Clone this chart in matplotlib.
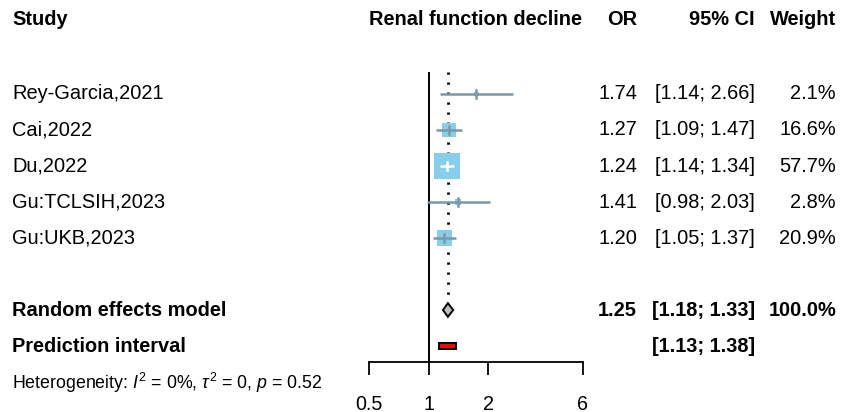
import matplotlib
matplotlib.use("Agg")
import matplotlib.pyplot as plt
import numpy as np
from matplotlib.transforms import blended_transform_factory
from matplotlib.patches import Polygon, Rectangle

plt.rcParams['font.family'] = ['Liberation Sans', 'DejaVu Sans']
plt.rcParams['mathtext.fontset'] = 'custom'
plt.rcParams['mathtext.rm'] = 'Liberation Sans'
plt.rcParams['mathtext.it'] = 'Liberation Sans:italic'

# ---- data ----
studies = ["Rey-Garcia,2021", "Cai,2022", "Du,2022", "Gu:TCLSIH,2023", "Gu:UKB,2023"]
or_vals = [1.74, 1.27, 1.24, 1.41, 1.20]
ci_lo = [1.14, 1.09, 1.14, 0.98, 1.05]
ci_hi = [2.66, 1.47, 1.34, 2.03, 1.37]
weights = [2.1, 16.6, 57.7, 2.8, 20.9]

re_or = 1.25
re_lo, re_hi = 1.18, 1.33
re_weight = 100.0
pi_lo, pi_hi = 1.13, 1.38

x_ticks = [0.5, 1, 2, 6]
x_tick_labels = ["0.5", "1", "2", "6"]

# ---- layout ----
W, H = 843, 412
fig = plt.figure(figsize=(W / 100, H / 100), dpi=100)
ax = fig.add_axes([369 / W, 50 / H, 214 / W, 290 / H])
ax.set_xscale("log")
ax.set_xlim(0.5, 6)
ax.set_ylim(8.444, 0.389)

for s in ["top", "right", "left"]:
    ax.spines[s].set_visible(False)
ax.spines["bottom"].set_linewidth(1.3)
ax.set_yticks([])
ax.set_xticks(x_ticks)
ax.set_xticklabels(x_tick_labels, fontsize=14.2)
ax.xaxis.set_minor_locator(matplotlib.ticker.NullLocator())
ax.tick_params(axis="x", direction="out", length=9.5, width=1.3, pad=14)

rows = np.arange(1, len(studies) + 1)
re_row, pi_row = 7, 8

# reference lines
ax.axvline(1, color="black", lw=1.4, zorder=1)
ax.plot([re_or, re_or], [0.389, re_row - 0.3], color="black", lw=2.0,
        linestyle=(0, (0.8, 2.8)), zorder=1, clip_on=False)

ci_col = "#7F96AA"
sq_col = "#87CEEB"
sq_k = 3.4  # square side in px per sqrt(weight)
for r, est, lo, hi, w in zip(rows, or_vals, ci_lo, ci_hi, weights):
    side_pts = sq_k * np.sqrt(w) * 0.72
    ax.scatter([est], [r], marker="s", s=side_pts ** 2, color=sq_col,
               edgecolors="none", zorder=2)
    # CI drawn white when it fits inside the square
    half_px = sq_k * np.sqrt(w) / 2
    lo_px = np.log(lo / est) / np.log(2) * 59.5
    hi_px = np.log(hi / est) / np.log(2) * 59.5
    inside = (-lo_px < half_px) and (hi_px < half_px)
    col = "white" if inside else ci_col
    ax.plot([lo, hi], [r, r], color=col, lw=1.8, zorder=3, solid_capstyle="butt")
    ax.plot([est, est], [r - 0.11, r + 0.11], color=col, lw=1.8, zorder=3)

# pooled estimate diamond
dh = 0.19
diamond = Polygon([[re_lo, re_row], [re_or, re_row - dh], [re_hi, re_row],
                   [re_or, re_row + dh]], closed=True, facecolor="#BEBEBE",
                  edgecolor="black", lw=1.4, zorder=4)
ax.add_patch(diamond)

# prediction interval bar
ph = 0.07
ax.add_patch(Rectangle((pi_lo, pi_row - ph), pi_hi - pi_lo, 2 * ph,
                       facecolor="red", edgecolor="black", lw=1.4, zorder=4))

# ---- text columns ----
tr = blended_transform_factory(fig.transFigure, ax.transData)
fs = 14.4


def put(xpx, row, s, ha="left", bold=False, size=fs):
    fig.text(xpx / W, row, s, transform=tr, ha=ha, va="center", fontsize=size,
             fontweight="bold" if bold else "normal", color="black")


hdr = -1.06
put(12, hdr, "Study", bold=True)
put(476, hdr, "Renal function decline", ha="center", bold=True)
put(637, hdr, "OR", ha="right", bold=True)
put(755, hdr, "95% CI", ha="right", bold=True)
put(836, hdr, "Weight", ha="right", bold=True)

for r, name, est, lo, hi, w in zip(rows, studies, or_vals, ci_lo, ci_hi, weights):
    put(12, r, name)
    put(637, r, f"{est:.2f}", ha="right")
    put(755, r, f"[{lo:.2f}; {hi:.2f}]", ha="right")
    put(836, r, f"{w:.1f}%", ha="right")

put(12, re_row, "Random effects model", bold=True)
put(637, re_row, f"{re_or:.2f}", ha="right", bold=True)
put(755, re_row, f"[{re_lo:.2f}; {re_hi:.2f}]", ha="right", bold=True)
put(836, re_row, f"{re_weight:.1f}%", ha="right", bold=True)

put(12, pi_row, "Prediction interval", bold=True)
put(755, pi_row, f"[{pi_lo:.2f}; {pi_hi:.2f}]", ha="right", bold=True)

put(12, 9.03, r"Heterogeneity: $\mathit{I}^2$ = 0%, $\tau^2$ = 0, $\mathit{p}$ = 0.52",
    size=12.8)

fig.savefig("out.png", dpi=100)
